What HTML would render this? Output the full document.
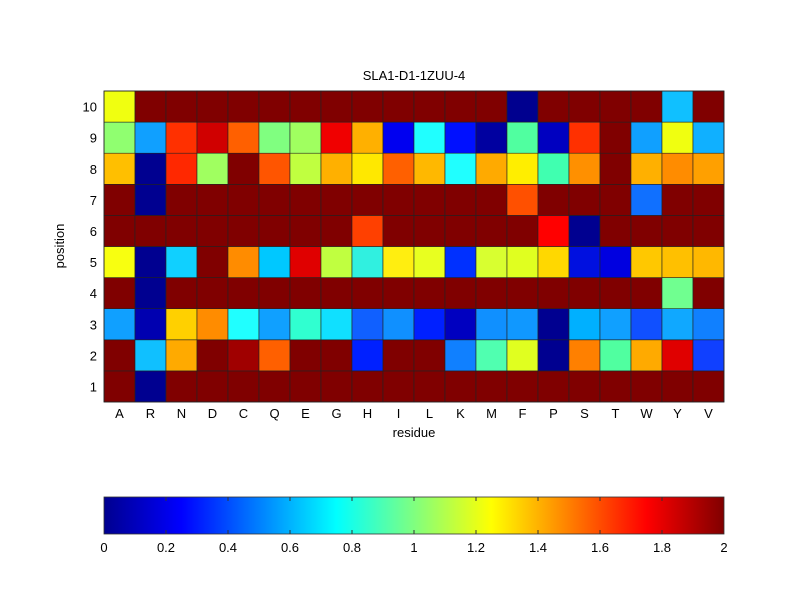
<!DOCTYPE html>
<html><head><meta charset="utf-8"><style>
body{margin:0;background:#fff;}
</style></head><body>
<svg width="800" height="600" xmlns="http://www.w3.org/2000/svg" font-family="Liberation Sans, sans-serif" font-size="13">
<rect width="800" height="600" fill="#fff"/>
<g id="cells" stroke="#222" stroke-width="0.6"></g>
<rect x="104" y="91" width="620" height="311" fill="none" stroke="#222" stroke-width="0.8"/>
<text x="414" y="80" text-anchor="middle" font-size="13">SLA1-D1-1ZUU-4</text>
<text x="414" y="437" text-anchor="middle">residue</text>
<text transform="translate(64,246) rotate(-90)" text-anchor="middle">position</text>
<g id="labels"></g>
<defs><linearGradient id="jet" x1="0" x2="1" y1="0" y2="0">
<stop offset="0" stop-color="#00008f"/><stop offset="0.125" stop-color="#0000ff"/>
<stop offset="0.375" stop-color="#00ffff"/><stop offset="0.625" stop-color="#ffff00"/>
<stop offset="0.875" stop-color="#ff0000"/><stop offset="1" stop-color="#800000"/>
</linearGradient></defs>
<rect x="104" y="497" width="620" height="37" fill="url(#jet)" stroke="#333" stroke-width="0.8"/>
<g id="cb" font-size="13"></g>
</svg>
<script>
var D='#800000';
var cols="A R N D C Q E G H I L K M F P S T W Y V".split(" ");
var rows={
10:['#f0ff10',D,D,D,D,D,D,D,D,D,D,D,D,'#00008f',D,D,D,D,'#10c0ff',D],
9:['#90ff70','#10a0ff','#ff3000','#d00000','#ff6000','#80ff80','#a0ff60','#f00000','#ffb000','#0000f0','#20ffff','#0010ff','#0000a0','#50ffa0','#0000c0','#ff3000',D,'#10a0ff','#f0ff10','#10b0ff'],
8:['#ffbf00','#000090','#ff2800','#a0ff60',D,'#ff5500','#c0ff40','#ffb000','#ffe800','#ff6000','#ffb800','#20ffff','#ffaa00','#ffee00','#40ffb0','#ff9000',D,'#ffb000','#ff8c00','#ffa000'],
7:[D,'#000090',D,D,D,D,D,D,D,D,D,D,D,'#ff5000',D,D,D,'#1070ff',D,D],
6:[D,D,D,D,D,D,D,D,'#ff4000',D,D,D,D,D,'#ff0000','#000090',D,D,D,D],
5:['#f8ff10','#000090','#10d0ff',D,'#ff8c00','#00c8ff','#e00000','#c0ff40','#30f0e0','#ffee10','#e8ff20','#0030ff','#d8ff30','#e0ff20','#ffd800','#0010e0','#0000e0','#ffc800','#ffc000','#ffb800'],
4:[D,'#000090',D,D,D,D,D,D,D,D,D,D,D,D,D,D,D,D,'#70ff90',D],
3:['#10a0ff','#0000b0','#ffd000','#ff8c00','#20ffff','#10a0ff','#30ffd0','#10e0ff','#1060ff','#1090ff','#0020ff','#0000c0','#1090ff','#1098ff','#000090','#00b0ff','#10a0ff','#1050ff','#10a8ff','#1080ff'],
2:[D,'#10c0ff','#ffaa00',D,'#a00000','#ff6000',D,D,'#0020ff',D,D,'#1080ff','#50ffb0','#e0ff20','#000090','#ff8000','#50ffa0','#ffaa00','#e00000','#1040ff'],
1:[D,'#000090',D,D,D,D,D,D,D,D,D,D,D,D,D,D,D,D,D,D]};
var ns="http://www.w3.org/2000/svg",g=document.getElementById('cells'),L=document.getElementById('labels'),cb=document.getElementById('cb');
var cw=31,ch=31.1;
function el(t,a,p,txt){var e=document.createElementNS(ns,t);for(var k in a)e.setAttribute(k,a[k]);if(txt!=null)e.textContent=txt;p.appendChild(e);}
for(var r=1;r<=10;r++){var y=91+(10-r)*ch;
 for(var c=0;c<20;c++)el('rect',{x:104+c*cw,y:y,width:cw,height:ch,fill:rows[r][c]},g);
 el('text',{x:97,y:y+ch/2+5,'text-anchor':'end'},L,String(r));}
for(var c=0;c<20;c++)el('text',{x:104+c*cw+cw/2,y:418,'text-anchor':'middle'},L,cols[c]);
var lb=['0','0.2','0.4','0.6','0.8','1','1.2','1.4','1.6','1.8','2'];
for(var i=0;i<11;i++){var x=104+i*62;
 if(i>0&&i<10){el('line',{x1:x,x2:x,y1:497,y2:501,stroke:'#333'},cb);el('line',{x1:x,x2:x,y1:530,y2:534,stroke:'#333'},cb);}
 el('text',{x:x,y:552,'text-anchor':'middle'},cb,lb[i]);}
</script>
</body></html>
